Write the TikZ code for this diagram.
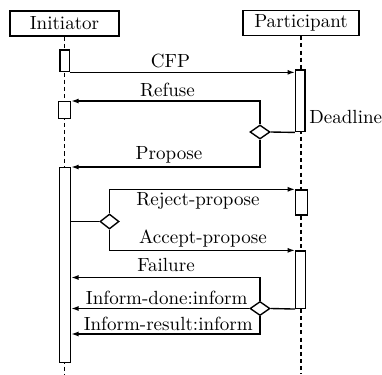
\documentclass[tikz,border=0pt]{standalone}
\usepackage{tikz}
\usetikzlibrary{positioning,calc,shapes.geometric,arrows.meta}

\begin{document}
\begin{tikzpicture}[x=0.0191cm,y=-0.0191cm,
    every node/.style={font=\fontsize{10.35}{12}\selectfont},
    actor/.style={draw, line width=0.75pt, minimum height=25*\px, inner sep=0pt},
    act/.style={draw, fill=white, line width=0.75pt, inner sep=0pt},
    choice/.style={draw, fill=white, diamond, line width=0.75pt, inner sep=0pt, minimum width=20*\px, minimum height=14*\px},
    msg/.style={line width=0.75pt, -{Latex[length=4pt,width=2.7pt]}},
    wire/.style={line width=0.75pt},
    life/.style={line width=0.65pt, dash pattern=on 2.2pt off 1.7pt},
    lbl/.style={inner sep=0pt}]
    \def\px{0.0191cm}
    \useasboundingbox (0,0) rectangle (382,374);

    % lifeline heads
    \node[actor, minimum width=109*\px] (init) at (64.5,23.5) {Initiator};
    \node[actor, minimum width=116*\px] (part) at (301,23) {Participant};

    % dashed lifelines
    \draw[life] (init.south) -- (init.south |- 0,374);
    \draw[life] (part.south) -- (part.south |- 0,374);

    % activations, initiator side
    \node[act, minimum width=9.5*\px, minimum height=21.7*\px] (i1) at (64.7,60.8) {};
    \node[act, minimum width=12*\px, minimum height=16.6*\px] (i2) at (64.5,110) {};
    \node[act, minimum width=11*\px, minimum height=195*\px] (i3) at (65,265.2) {};
    % activations, participant side
    \node[act, minimum width=9.5*\px, minimum height=61.7*\px] (p1) at (300.4,100.9) {};
    \node[act, minimum width=11.5*\px, minimum height=25*\px] (p2) at (301.5,202.5) {};
    \node[act, minimum width=10*\px, minimum height=57.3*\px] (p3) at (300.7,279.7) {};

    % decision points
    \node[choice] (d1) at (260,132) {};
    \node[choice, minimum width=19*\px, minimum height=15*\px] (d2) at (109.5,221.5) {};
    \node[choice] (d3) at (260,308.5) {};
    \coordinate (fl) at (260,277.5);
    \coordinate (ir) at (260,334);

    % messages
    \draw[msg] (i1.south east) -- (i1.south east -| p1.west);
    \draw[wire] (d1.east) -- (p1.south west);
    \draw[msg] (d1.north) |- (i2.north east);
    \draw[msg] (d1.south) |- (i3.north east);
    \draw[wire] (i3.east |- d2.west) -- (d2.west);
    \draw[msg] (d2.north) |- (p2.north west);
    \draw[msg] (d2.south) |- (p3.north west);
    \draw[wire] (d3.east) -- (p3.south west);
    \draw[msg] (d3.north) -- (fl) -- (fl -| i3.east);
    \draw[msg] (d3.west) -- (d3.west -| i3.east);
    \draw[msg] (d3.south) -- (ir) -- (ir -| i3.east);

    % labels
    \node[lbl] (lcfp) at (170.5,60.5) {CFP};
    \node[lbl] (lref) at (167.5,90) {Refuse};
    \node[lbl] (lprop) at (169,155) {Propose};
    \node[lbl, anchor=west] (ldead) at (309,117) {Deadline};
    \node[lbl] (lrej) at (198,201) {Reject-propose};
    \node[lbl] (lacc) at (203,239) {Accept-propose};
    \node[lbl] (lfail) at (166,265) {Failure};
    \node[lbl] (ldone) at (166.7,297.7) {Inform-done:inform};
    \node[lbl] (lres) at (168.3,324.3) {Inform-result:inform};
\end{tikzpicture}
\end{document}
